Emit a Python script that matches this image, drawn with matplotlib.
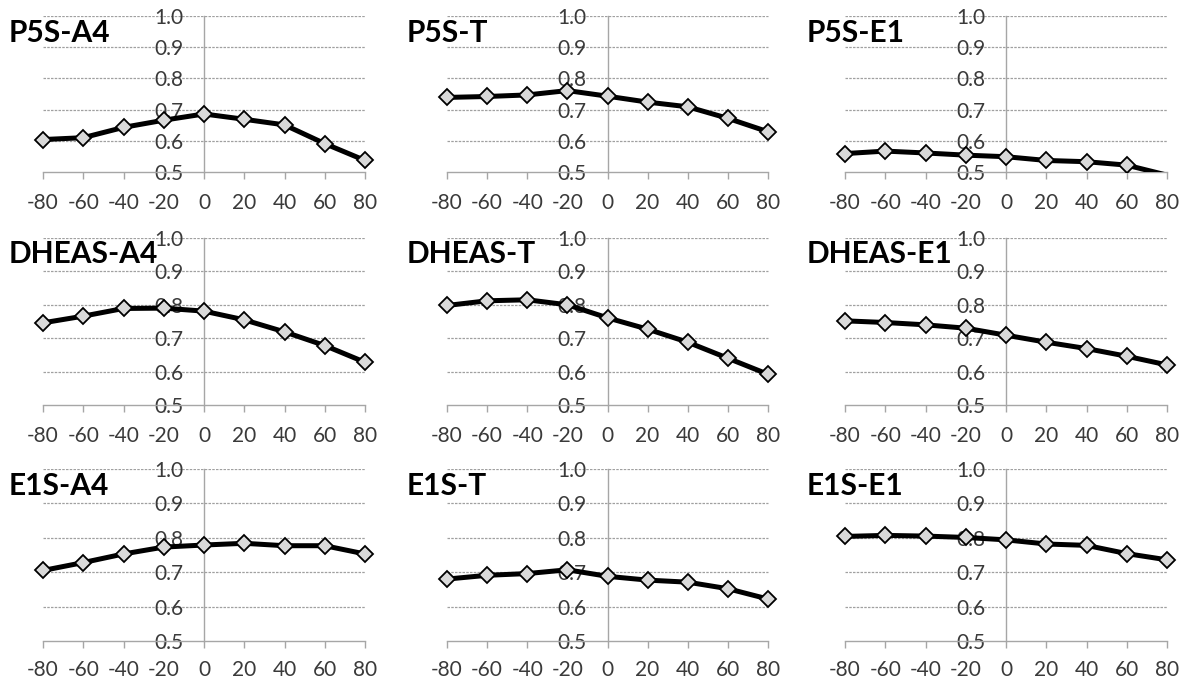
import matplotlib
matplotlib.use('Agg')
import matplotlib.pyplot as plt
from matplotlib.ticker import FormatStrFormatter

plt.rcParams['font.family'] = ['Lato', 'DejaVu Sans']
plt.rcParams['axes.unicode_minus'] = False

# x positions shared by every panel
x_vals = [-80, -60, -40, -20, 0, 20, 40, 60, 80]

# panel names, row by row
titles = ['P5S-A4', 'P5S-T', 'P5S-E1',
          'DHEAS-A4', 'DHEAS-T', 'DHEAS-E1',
          'E1S-A4', 'E1S-T', 'E1S-E1']

p5s_a4 = [0.604, 0.610, 0.643, 0.666, 0.686, 0.669, 0.651, 0.591, 0.537]
p5s_t = [0.739, 0.742, 0.747, 0.761, 0.743, 0.724, 0.709, 0.672, 0.629]
p5s_e1 = [0.559, 0.567, 0.561, 0.554, 0.549, 0.537, 0.533, 0.522, 0.490]
dheas_a4 = [0.746, 0.766, 0.789, 0.790, 0.781, 0.755, 0.719, 0.678, 0.628]
dheas_t = [0.798, 0.812, 0.815, 0.800, 0.761, 0.727, 0.688, 0.640, 0.592]
dheas_e1 = [0.752, 0.747, 0.740, 0.730, 0.709, 0.688, 0.669, 0.646, 0.620]
e1s_a4 = [0.705, 0.728, 0.753, 0.773, 0.779, 0.784, 0.777, 0.777, 0.753]
e1s_t = [0.680, 0.691, 0.696, 0.707, 0.688, 0.677, 0.671, 0.652, 0.622]
e1s_e1 = [0.804, 0.807, 0.805, 0.801, 0.794, 0.782, 0.778, 0.754, 0.736]

series = [p5s_a4, p5s_t, p5s_e1,
          dheas_a4, dheas_t, dheas_e1,
          e1s_a4, e1s_t, e1s_e1]

y_ticks = [0.5, 0.6, 0.7, 0.8, 0.9, 1.0]
y_min, y_max = 0.5, 1.0

W, H = 1197, 683
fig = plt.figure(figsize=(W / 100, H / 100), dpi=100)

# pixel layout of the plot areas (x from -80 to 80, y from 1.0 to 0.5)
col_px = [(43, 365), (447, 768), (845, 1167)]
row_px = [(16, 172), (238, 405), (469, 641)]
title_x = [9, 407, 807]
title_base = [42, 263, 495]
xlabel_pad = [10, 10, 8.5]

axis_grey = '#a6a6a6'
text_grey = '#3a3a3a'

for i, name in enumerate(titles):
    r, c = divmod(i, 3)
    x0, x1 = col_px[c]
    y0, y1 = row_px[r]
    # pad the x range a little so the edge markers are not clipped
    span = x1 - x0
    pad = 12
    left = (x0 - pad) / W
    width = (span + 2 * pad) / W
    ax = fig.add_axes([left, 1 - y1 / H, width, (y1 - y0) / H])
    extra = 160 * pad / span
    ax.set_xlim(-80 - extra, 80 + extra)
    ax.set_ylim(y_min, y_max)

    for s in ['top', 'right']:
        ax.spines[s].set_visible(False)
    ax.spines['left'].set_position(('data', 0))
    ax.spines['left'].set_color(axis_grey)
    ax.spines['left'].set_linewidth(1.0)
    ax.spines['bottom'].set_bounds(-80, 80)
    ax.spines['bottom'].set_color(axis_grey)
    ax.spines['bottom'].set_linewidth(1.0)

    # dotted gridlines, only across the data range
    ax.hlines(y_ticks[1:], -80, 80, colors='#a0a0a0', linestyles=(0, (2, 1)),
              linewidth=0.9, zorder=1)

    ax.set_xticks(x_vals)
    ax.set_yticks(y_ticks)
    ax.yaxis.set_major_formatter(FormatStrFormatter('%.1f'))
    ax.tick_params(axis='x', direction='out', length=5, width=1.0, color=axis_grey,
                   pad=xlabel_pad[r], labelsize=15, labelcolor=text_grey)
    ax.tick_params(axis='y', length=0, pad=15, labelsize=15, labelcolor=text_grey)

    vals = series[i]
    # points below the axis minimum keep their line but lose the marker
    shown = [k for k, v in enumerate(vals) if v >= y_min]
    ax.plot(x_vals, vals, color='black', linewidth=3.6, marker='D',
            markersize=8, markerfacecolor='#d9d9d9', markeredgecolor='black',
            markeredgewidth=1.3, markevery=shown, zorder=3)

    fig.text(title_x[c] / W, 1 - title_base[r] / H, name, fontsize=21.5,
             fontweight='bold', color='black', va='baseline', ha='left')

fig.savefig('out.png', dpi=100)
